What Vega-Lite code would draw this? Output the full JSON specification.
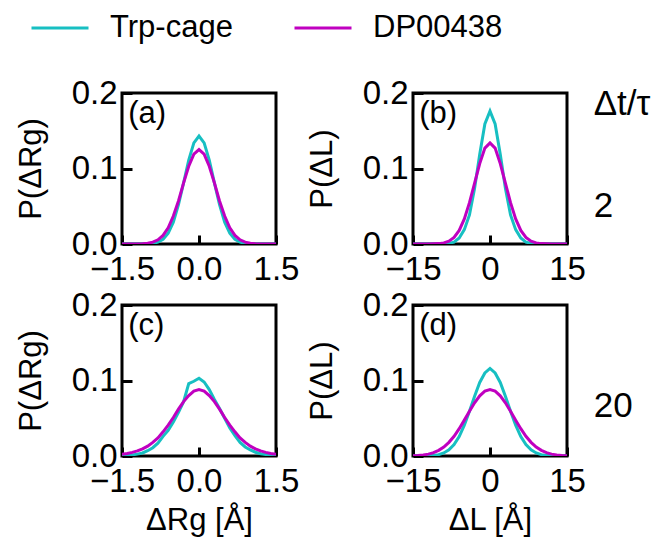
{
  "$schema": "https://vega.github.io/schema/vega-lite/v6.json",
  "autosize": "none",
  "padding": {"left": 122, "top": 93, "right": 539, "bottom": 453},
  "bounds": "flush",
  "columns": 2,
  "spacing": {"row": 61, "column": 137},
  "datasets": {
    "curves": [
      {"p":"a","s":"Trp-cage","x":-1.5,"y":0},{"p":"a","s":"Trp-cage","x":-1.4,"y":0},{"p":"a","s":"Trp-cage","x":-1.3,"y":0},{"p":"a","s":"Trp-cage","x":-1.2,"y":0},{"p":"a","s":"Trp-cage","x":-1.1,"y":0},{"p":"a","s":"Trp-cage","x":-1.0,"y":0.0002},{"p":"a","s":"Trp-cage","x":-0.9,"y":0.0008},{"p":"a","s":"Trp-cage","x":-0.8,"y":0.0024},{"p":"a","s":"Trp-cage","x":-0.7,"y":0.0063},{"p":"a","s":"Trp-cage","x":-0.6,"y":0.0144},{"p":"a","s":"Trp-cage","x":-0.5,"y":0.029},{"p":"a","s":"Trp-cage","x":-0.4,"y":0.052},{"p":"a","s":"Trp-cage","x":-0.3,"y":0.081},{"p":"a","s":"Trp-cage","x":-0.2,"y":0.111},{"p":"a","s":"Trp-cage","x":-0.1,"y":0.134},{"p":"a","s":"Trp-cage","x":0.0,"y":0.143},{"p":"a","s":"Trp-cage","x":0.1,"y":0.134},{"p":"a","s":"Trp-cage","x":0.2,"y":0.111},{"p":"a","s":"Trp-cage","x":0.3,"y":0.081},{"p":"a","s":"Trp-cage","x":0.4,"y":0.052},{"p":"a","s":"Trp-cage","x":0.5,"y":0.029},{"p":"a","s":"Trp-cage","x":0.6,"y":0.0144},{"p":"a","s":"Trp-cage","x":0.7,"y":0.0063},{"p":"a","s":"Trp-cage","x":0.8,"y":0.0024},{"p":"a","s":"Trp-cage","x":0.9,"y":0.0008},{"p":"a","s":"Trp-cage","x":1.0,"y":0.0002},{"p":"a","s":"Trp-cage","x":1.1,"y":0},{"p":"a","s":"Trp-cage","x":1.2,"y":0},{"p":"a","s":"Trp-cage","x":1.3,"y":0},{"p":"a","s":"Trp-cage","x":1.4,"y":0},{"p":"a","s":"Trp-cage","x":1.5,"y":0},
      {"p":"a","s":"DP00438","x":-1.5,"y":0},{"p":"a","s":"DP00438","x":-1.4,"y":0},{"p":"a","s":"DP00438","x":-1.3,"y":0},{"p":"a","s":"DP00438","x":-1.2,"y":0.0001},{"p":"a","s":"DP00438","x":-1.1,"y":0.0003},{"p":"a","s":"DP00438","x":-1.0,"y":0.001},{"p":"a","s":"DP00438","x":-0.9,"y":0.0024},{"p":"a","s":"DP00438","x":-0.8,"y":0.0055},{"p":"a","s":"DP00438","x":-0.7,"y":0.0114},{"p":"a","s":"DP00438","x":-0.6,"y":0.0215},{"p":"a","s":"DP00438","x":-0.5,"y":0.037},{"p":"a","s":"DP00438","x":-0.4,"y":0.057},{"p":"a","s":"DP00438","x":-0.3,"y":0.081},{"p":"a","s":"DP00438","x":-0.2,"y":0.103},{"p":"a","s":"DP00438","x":-0.1,"y":0.119},{"p":"a","s":"DP00438","x":0.0,"y":0.125},{"p":"a","s":"DP00438","x":0.1,"y":0.119},{"p":"a","s":"DP00438","x":0.2,"y":0.103},{"p":"a","s":"DP00438","x":0.3,"y":0.081},{"p":"a","s":"DP00438","x":0.4,"y":0.057},{"p":"a","s":"DP00438","x":0.5,"y":0.037},{"p":"a","s":"DP00438","x":0.6,"y":0.0215},{"p":"a","s":"DP00438","x":0.7,"y":0.0114},{"p":"a","s":"DP00438","x":0.8,"y":0.0055},{"p":"a","s":"DP00438","x":0.9,"y":0.0024},{"p":"a","s":"DP00438","x":1.0,"y":0.001},{"p":"a","s":"DP00438","x":1.1,"y":0.0003},{"p":"a","s":"DP00438","x":1.2,"y":0.0001},{"p":"a","s":"DP00438","x":1.3,"y":0},{"p":"a","s":"DP00438","x":1.4,"y":0},{"p":"a","s":"DP00438","x":1.5,"y":0},
      {"p":"b","s":"Trp-cage","x":-15,"y":0},{"p":"b","s":"Trp-cage","x":-14,"y":0},{"p":"b","s":"Trp-cage","x":-13,"y":0},{"p":"b","s":"Trp-cage","x":-12,"y":0},{"p":"b","s":"Trp-cage","x":-11,"y":0},{"p":"b","s":"Trp-cage","x":-10,"y":0},{"p":"b","s":"Trp-cage","x":-9,"y":0.0001},{"p":"b","s":"Trp-cage","x":-8,"y":0.0007},{"p":"b","s":"Trp-cage","x":-7,"y":0.0025},{"p":"b","s":"Trp-cage","x":-6,"y":0.008},{"p":"b","s":"Trp-cage","x":-5,"y":0.019},{"p":"b","s":"Trp-cage","x":-4,"y":0.0385},{"p":"b","s":"Trp-cage","x":-3,"y":0.0737},{"p":"b","s":"Trp-cage","x":-2,"y":0.119},{"p":"b","s":"Trp-cage","x":-1,"y":0.159},{"p":"b","s":"Trp-cage","x":0,"y":0.176},{"p":"b","s":"Trp-cage","x":1,"y":0.159},{"p":"b","s":"Trp-cage","x":2,"y":0.119},{"p":"b","s":"Trp-cage","x":3,"y":0.0737},{"p":"b","s":"Trp-cage","x":4,"y":0.0385},{"p":"b","s":"Trp-cage","x":5,"y":0.019},{"p":"b","s":"Trp-cage","x":6,"y":0.008},{"p":"b","s":"Trp-cage","x":7,"y":0.0025},{"p":"b","s":"Trp-cage","x":8,"y":0.0007},{"p":"b","s":"Trp-cage","x":9,"y":0.0001},{"p":"b","s":"Trp-cage","x":10,"y":0},{"p":"b","s":"Trp-cage","x":11,"y":0},{"p":"b","s":"Trp-cage","x":12,"y":0},{"p":"b","s":"Trp-cage","x":13,"y":0},{"p":"b","s":"Trp-cage","x":14,"y":0},{"p":"b","s":"Trp-cage","x":15,"y":0},
      {"p":"b","s":"DP00438","x":-15,"y":0},{"p":"b","s":"DP00438","x":-14,"y":0},{"p":"b","s":"DP00438","x":-13,"y":0},{"p":"b","s":"DP00438","x":-12,"y":0},{"p":"b","s":"DP00438","x":-11,"y":0.0002},{"p":"b","s":"DP00438","x":-10,"y":0.0005},{"p":"b","s":"DP00438","x":-9,"y":0.0015},{"p":"b","s":"DP00438","x":-8,"y":0.0038},{"p":"b","s":"DP00438","x":-7,"y":0.0087},{"p":"b","s":"DP00438","x":-6,"y":0.018},{"p":"b","s":"DP00438","x":-5,"y":0.0332},{"p":"b","s":"DP00438","x":-4,"y":0.0547},{"p":"b","s":"DP00438","x":-3,"y":0.0807},{"p":"b","s":"DP00438","x":-2,"y":0.1065},{"p":"b","s":"DP00438","x":-1,"y":0.127},{"p":"b","s":"DP00438","x":0,"y":0.134},{"p":"b","s":"DP00438","x":1,"y":0.127},{"p":"b","s":"DP00438","x":2,"y":0.1065},{"p":"b","s":"DP00438","x":3,"y":0.0807},{"p":"b","s":"DP00438","x":4,"y":0.0547},{"p":"b","s":"DP00438","x":5,"y":0.0332},{"p":"b","s":"DP00438","x":6,"y":0.018},{"p":"b","s":"DP00438","x":7,"y":0.0087},{"p":"b","s":"DP00438","x":8,"y":0.0038},{"p":"b","s":"DP00438","x":9,"y":0.0015},{"p":"b","s":"DP00438","x":10,"y":0.0005},{"p":"b","s":"DP00438","x":11,"y":0.0002},{"p":"b","s":"DP00438","x":12,"y":0},{"p":"b","s":"DP00438","x":13,"y":0},{"p":"b","s":"DP00438","x":14,"y":0},{"p":"b","s":"DP00438","x":15,"y":0},
      {"p":"c","s":"Trp-cage","x":-1.5,"y":0.0005},{"p":"c","s":"Trp-cage","x":-1.4,"y":0.001},{"p":"c","s":"Trp-cage","x":-1.3,"y":0.0015},{"p":"c","s":"Trp-cage","x":-1.2,"y":0.0025},{"p":"c","s":"Trp-cage","x":-1.1,"y":0.004},{"p":"c","s":"Trp-cage","x":-1.0,"y":0.007},{"p":"c","s":"Trp-cage","x":-0.9,"y":0.011},{"p":"c","s":"Trp-cage","x":-0.8,"y":0.017},{"p":"c","s":"Trp-cage","x":-0.7,"y":0.026},{"p":"c","s":"Trp-cage","x":-0.6,"y":0.034},{"p":"c","s":"Trp-cage","x":-0.5,"y":0.045},{"p":"c","s":"Trp-cage","x":-0.4,"y":0.058},{"p":"c","s":"Trp-cage","x":-0.3,"y":0.072},{"p":"c","s":"Trp-cage","x":-0.2,"y":0.096},{"p":"c","s":"Trp-cage","x":-0.1,"y":0.099},{"p":"c","s":"Trp-cage","x":0.0,"y":0.103},{"p":"c","s":"Trp-cage","x":0.1,"y":0.098},{"p":"c","s":"Trp-cage","x":0.2,"y":0.088},{"p":"c","s":"Trp-cage","x":0.3,"y":0.075},{"p":"c","s":"Trp-cage","x":0.4,"y":0.063},{"p":"c","s":"Trp-cage","x":0.5,"y":0.05},{"p":"c","s":"Trp-cage","x":0.6,"y":0.037},{"p":"c","s":"Trp-cage","x":0.7,"y":0.027},{"p":"c","s":"Trp-cage","x":0.8,"y":0.018},{"p":"c","s":"Trp-cage","x":0.9,"y":0.012},{"p":"c","s":"Trp-cage","x":1.0,"y":0.008},{"p":"c","s":"Trp-cage","x":1.1,"y":0.005},{"p":"c","s":"Trp-cage","x":1.2,"y":0.003},{"p":"c","s":"Trp-cage","x":1.3,"y":0.002},{"p":"c","s":"Trp-cage","x":1.4,"y":0.001},{"p":"c","s":"Trp-cage","x":1.5,"y":0.0005},
      {"p":"c","s":"DP00438","x":-1.5,"y":0.0024},{"p":"c","s":"DP00438","x":-1.4,"y":0.0034},{"p":"c","s":"DP00438","x":-1.3,"y":0.0048},{"p":"c","s":"DP00438","x":-1.2,"y":0.0068},{"p":"c","s":"DP00438","x":-1.1,"y":0.0095},{"p":"c","s":"DP00438","x":-1.0,"y":0.013},{"p":"c","s":"DP00438","x":-0.9,"y":0.018},{"p":"c","s":"DP00438","x":-0.8,"y":0.024},{"p":"c","s":"DP00438","x":-0.7,"y":0.032},{"p":"c","s":"DP00438","x":-0.6,"y":0.041},{"p":"c","s":"DP00438","x":-0.5,"y":0.051},{"p":"c","s":"DP00438","x":-0.4,"y":0.062},{"p":"c","s":"DP00438","x":-0.3,"y":0.072},{"p":"c","s":"DP00438","x":-0.2,"y":0.08},{"p":"c","s":"DP00438","x":-0.1,"y":0.086},{"p":"c","s":"DP00438","x":0.0,"y":0.088},{"p":"c","s":"DP00438","x":0.1,"y":0.086},{"p":"c","s":"DP00438","x":0.2,"y":0.08},{"p":"c","s":"DP00438","x":0.3,"y":0.072},{"p":"c","s":"DP00438","x":0.4,"y":0.062},{"p":"c","s":"DP00438","x":0.5,"y":0.051},{"p":"c","s":"DP00438","x":0.6,"y":0.041},{"p":"c","s":"DP00438","x":0.7,"y":0.032},{"p":"c","s":"DP00438","x":0.8,"y":0.024},{"p":"c","s":"DP00438","x":0.9,"y":0.018},{"p":"c","s":"DP00438","x":1.0,"y":0.013},{"p":"c","s":"DP00438","x":1.1,"y":0.0095},{"p":"c","s":"DP00438","x":1.2,"y":0.0068},{"p":"c","s":"DP00438","x":1.3,"y":0.0048},{"p":"c","s":"DP00438","x":1.4,"y":0.0034},{"p":"c","s":"DP00438","x":1.5,"y":0.0024},
      {"p":"d","s":"Trp-cage","x":-15,"y":0},{"p":"d","s":"Trp-cage","x":-14,"y":0},{"p":"d","s":"Trp-cage","x":-13,"y":0.0001},{"p":"d","s":"Trp-cage","x":-12,"y":0.0003},{"p":"d","s":"Trp-cage","x":-11,"y":0.0008},{"p":"d","s":"Trp-cage","x":-10,"y":0.0018},{"p":"d","s":"Trp-cage","x":-9,"y":0.004},{"p":"d","s":"Trp-cage","x":-8,"y":0.0081},{"p":"d","s":"Trp-cage","x":-7,"y":0.0151},{"p":"d","s":"Trp-cage","x":-6,"y":0.0258},{"p":"d","s":"Trp-cage","x":-5,"y":0.0408},{"p":"d","s":"Trp-cage","x":-4,"y":0.0592},{"p":"d","s":"Trp-cage","x":-3,"y":0.0792},{"p":"d","s":"Trp-cage","x":-2,"y":0.0974},{"p":"d","s":"Trp-cage","x":-1,"y":0.11},{"p":"d","s":"Trp-cage","x":0,"y":0.116},{"p":"d","s":"Trp-cage","x":1,"y":0.11},{"p":"d","s":"Trp-cage","x":2,"y":0.0974},{"p":"d","s":"Trp-cage","x":3,"y":0.0792},{"p":"d","s":"Trp-cage","x":4,"y":0.0592},{"p":"d","s":"Trp-cage","x":5,"y":0.0408},{"p":"d","s":"Trp-cage","x":6,"y":0.0258},{"p":"d","s":"Trp-cage","x":7,"y":0.0151},{"p":"d","s":"Trp-cage","x":8,"y":0.0081},{"p":"d","s":"Trp-cage","x":9,"y":0.004},{"p":"d","s":"Trp-cage","x":10,"y":0.0018},{"p":"d","s":"Trp-cage","x":11,"y":0.0008},{"p":"d","s":"Trp-cage","x":12,"y":0.0003},{"p":"d","s":"Trp-cage","x":13,"y":0.0001},{"p":"d","s":"Trp-cage","x":14,"y":0},{"p":"d","s":"Trp-cage","x":15,"y":0},
      {"p":"d","s":"DP00438","x":-15,"y":0.0003},{"p":"d","s":"DP00438","x":-14,"y":0.0007},{"p":"d","s":"DP00438","x":-13,"y":0.0014},{"p":"d","s":"DP00438","x":-12,"y":0.0025},{"p":"d","s":"DP00438","x":-11,"y":0.0044},{"p":"d","s":"DP00438","x":-10,"y":0.0075},{"p":"d","s":"DP00438","x":-9,"y":0.0119},{"p":"d","s":"DP00438","x":-8,"y":0.0181},{"p":"d","s":"DP00438","x":-7,"y":0.0262},{"p":"d","s":"DP00438","x":-6,"y":0.0362},{"p":"d","s":"DP00438","x":-5,"y":0.0475},{"p":"d","s":"DP00438","x":-4,"y":0.0593},{"p":"d","s":"DP00438","x":-3,"y":0.0705},{"p":"d","s":"DP00438","x":-2,"y":0.0797},{"p":"d","s":"DP00438","x":-1,"y":0.0859},{"p":"d","s":"DP00438","x":0,"y":0.088},{"p":"d","s":"DP00438","x":1,"y":0.0859},{"p":"d","s":"DP00438","x":2,"y":0.0797},{"p":"d","s":"DP00438","x":3,"y":0.0705},{"p":"d","s":"DP00438","x":4,"y":0.0593},{"p":"d","s":"DP00438","x":5,"y":0.0475},{"p":"d","s":"DP00438","x":6,"y":0.0362},{"p":"d","s":"DP00438","x":7,"y":0.0262},{"p":"d","s":"DP00438","x":8,"y":0.0181},{"p":"d","s":"DP00438","x":9,"y":0.0119},{"p":"d","s":"DP00438","x":10,"y":0.0075},{"p":"d","s":"DP00438","x":11,"y":0.0044},{"p":"d","s":"DP00438","x":12,"y":0.0025},{"p":"d","s":"DP00438","x":13,"y":0.0014},{"p":"d","s":"DP00438","x":14,"y":0.0007},{"p":"d","s":"DP00438","x":15,"y":0.0003}
    ]
  },
  "concat": [
    {
      "width": 154, "height": 151,
      "layer": [
        {
          "data": {"name": "curves"},
          "transform": [{"filter": {"field": "p", "equal": "a"}}],
          "mark": {"type": "line", "strokeWidth": 3, "clip": true},
          "encoding": {
            "x": {"field": "x", "type": "quantitative", "scale": {"domain": [-1.5, 1.5], "nice": false, "zero": false}, "axis": {"values": [-1.5, 0, 1.5], "format": ".1f", "title": null}},
            "y": {"field": "y", "type": "quantitative", "scale": {"domain": [0, 0.2], "nice": false}, "axis": {"values": [0, 0.1, 0.2], "format": ".1f", "title": "P(ΔRg)"}},
            "color": {"field": "s", "type": "nominal", "scale": {"domain": ["Trp-cage", "DP00438"], "range": ["#17BFC2", "#C000C0"]},
              "legend": {"title": null, "orient": "none", "legendX": -92, "legendY": -95, "direction": "horizontal", "symbolType": "stroke", "symbolSize": 3249, "symbolStrokeWidth": 3, "labelFontSize": 31, "labelOffset": 20, "columnPadding": 55}}
          }
        },
        {
          "data": {"values": [{"x": -1.38, "y": 0.16, "t": "(a)"}]},
          "mark": {"type": "text", "align": "left", "baseline": "alphabetic", "fontSize": 31},
          "encoding": {"x": {"field": "x", "type": "quantitative"}, "y": {"field": "y", "type": "quantitative"}, "text": {"field": "t"}}
        }
      ]
    },
    {
      "width": 154, "height": 151,
      "layer": [
        {
          "data": {"name": "curves"},
          "transform": [{"filter": {"field": "p", "equal": "b"}}],
          "mark": {"type": "line", "strokeWidth": 3, "clip": true},
          "encoding": {
            "x": {"field": "x", "type": "quantitative", "scale": {"domain": [-15, 15], "nice": false, "zero": false}, "axis": {"values": [-15, 0, 15], "format": "d", "title": null}},
            "y": {"field": "y", "type": "quantitative", "scale": {"domain": [0, 0.2], "nice": false}, "axis": {"values": [0, 0.1, 0.2], "format": ".1f", "title": "P(ΔL)"}},
            "color": {"field": "s", "type": "nominal", "scale": {"domain": ["Trp-cage", "DP00438"], "range": ["#17BFC2", "#C000C0"]}}
          }
        },
        {
          "data": {"values": [{"x": -13.8, "y": 0.16, "t": "(b)"}]},
          "mark": {"type": "text", "align": "left", "baseline": "alphabetic", "fontSize": 31},
          "encoding": {"x": {"field": "x", "type": "quantitative"}, "y": {"field": "y", "type": "quantitative"}, "text": {"field": "t"}}
        },
        {
          "data": {"values": [{"x": 20.2, "y": 0.171, "t": "Δt/τ"}, {"x": 20.2, "y": 0.036, "t": "2"}]},
          "mark": {"type": "text", "align": "left", "baseline": "alphabetic", "fontSize": 35},
          "encoding": {"x": {"field": "x", "type": "quantitative"}, "y": {"field": "y", "type": "quantitative"}, "text": {"field": "t"}}
        }
      ]
    },
    {
      "width": 154, "height": 151,
      "layer": [
        {
          "data": {"name": "curves"},
          "transform": [{"filter": {"field": "p", "equal": "c"}}],
          "mark": {"type": "line", "strokeWidth": 3, "clip": true},
          "encoding": {
            "x": {"field": "x", "type": "quantitative", "scale": {"domain": [-1.5, 1.5], "nice": false, "zero": false}, "axis": {"values": [-1.5, 0, 1.5], "format": ".1f", "title": "ΔRg [Å]"}},
            "y": {"field": "y", "type": "quantitative", "scale": {"domain": [0, 0.2], "nice": false}, "axis": {"values": [0, 0.1, 0.2], "format": ".1f", "title": "P(ΔRg)"}},
            "color": {"field": "s", "type": "nominal", "scale": {"domain": ["Trp-cage", "DP00438"], "range": ["#17BFC2", "#C000C0"]}}
          }
        },
        {
          "data": {"values": [{"x": -1.38, "y": 0.16, "t": "(c)"}]},
          "mark": {"type": "text", "align": "left", "baseline": "alphabetic", "fontSize": 31},
          "encoding": {"x": {"field": "x", "type": "quantitative"}, "y": {"field": "y", "type": "quantitative"}, "text": {"field": "t"}}
        }
      ]
    },
    {
      "width": 154, "height": 151,
      "layer": [
        {
          "data": {"name": "curves"},
          "transform": [{"filter": {"field": "p", "equal": "d"}}],
          "mark": {"type": "line", "strokeWidth": 3, "clip": true},
          "encoding": {
            "x": {"field": "x", "type": "quantitative", "scale": {"domain": [-15, 15], "nice": false, "zero": false}, "axis": {"values": [-15, 0, 15], "format": "d", "title": "ΔL [Å]"}},
            "y": {"field": "y", "type": "quantitative", "scale": {"domain": [0, 0.2], "nice": false}, "axis": {"values": [0, 0.1, 0.2], "format": ".1f", "title": "P(ΔL)"}},
            "color": {"field": "s", "type": "nominal", "scale": {"domain": ["Trp-cage", "DP00438"], "range": ["#17BFC2", "#C000C0"]}}
          }
        },
        {
          "data": {"values": [{"x": -13.8, "y": 0.16, "t": "(d)"}]},
          "mark": {"type": "text", "align": "left", "baseline": "alphabetic", "fontSize": 31},
          "encoding": {"x": {"field": "x", "type": "quantitative"}, "y": {"field": "y", "type": "quantitative"}, "text": {"field": "t"}}
        },
        {
          "data": {"values": [{"x": 20.2, "y": 0.052, "t": "20"}]},
          "mark": {"type": "text", "align": "left", "baseline": "alphabetic", "fontSize": 35},
          "encoding": {"x": {"field": "x", "type": "quantitative"}, "y": {"field": "y", "type": "quantitative"}, "text": {"field": "t"}}
        }
      ]
    }
  ],
  "config": {
    "font": "Liberation Sans",
    "view": {"stroke": "black", "strokeWidth": 3},
    "axis": {"domain": false, "grid": false, "tickColor": "black", "tickWidth": 3, "labelColor": "black", "labelFontSize": 33, "labelFont": "Liberation Sans", "titleFont": "Liberation Sans", "titleFontSize": 31, "titleFontWeight": "normal", "titleColor": "black", "labelOverlap": false, "labelFlush": false, "labelBound": false},
    "axisX": {"tickSize": -9, "labelPadding": 18, "titlePadding": 7},
    "axisY": {"tickSize": -10, "labelPadding": 15, "titlePadding": 24},
    "legend": {"labelFont": "Liberation Sans", "labelColor": "black"},
    "text": {"font": "Liberation Sans", "color": "black"}
  }
}
